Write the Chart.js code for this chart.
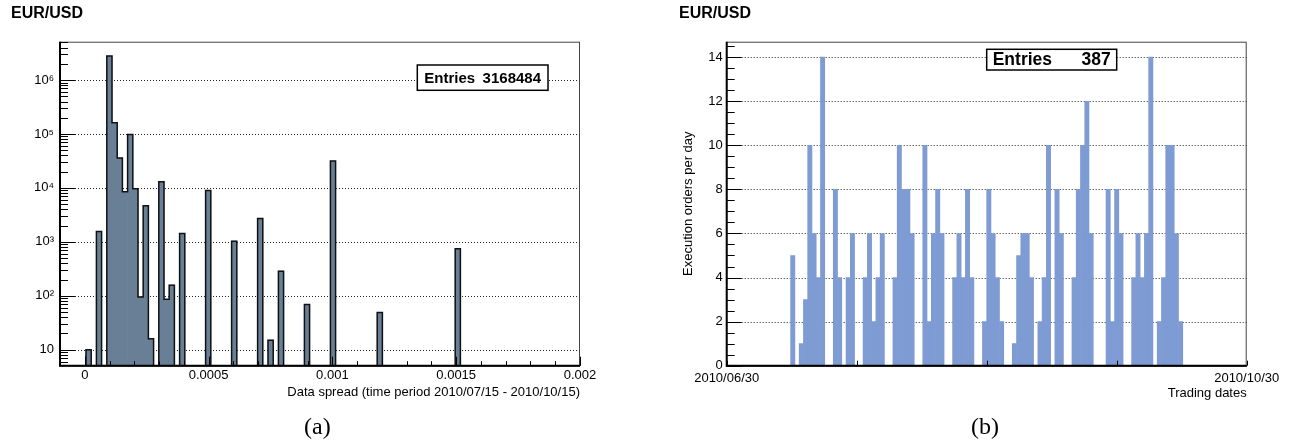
<!DOCTYPE html>
<html>
<head>
<meta charset="utf-8">
<script src="https://cdn.jsdelivr.net/npm/chart.js@4"></script>
<style>
  html, body { margin: 0; padding: 0; background: #fff; }
  #wrap { position: relative; width: 1295px; height: 444px; overflow: hidden; }
  .pane { position: absolute; top: 0; height: 444px; }
  .cap { position: absolute; top: 414px; font-family: "Liberation Serif", "Times New Roman", serif;
         font-size: 24px; line-height: 24px; color: #000; }
</style>
</head>
<body>
<div id="wrap">
  <div class="pane" style="left:0;width:647px"><canvas id="spreadChart"></canvas></div>
  <div class="pane" style="left:647px;width:648px"><canvas id="ordersChart"></canvas></div>
  <div class="cap" style="left:304px">(a)</div>
  <div class="cap" style="left:971px">(b)</div>
</div>
<script>
const FONT = "'Liberation Sans', Arial, Helvetica, sans-serif";
Chart.defaults.font.family = FONT;
Chart.defaults.color = '#000';

// (a) spread histogram: 100 bins from -0.0001 to 0.002
const spreadMin = -0.0001;
const spreadMax = 0.002;
const spreadCounts = [
  0, 0, 0, 0, 0, 10, 0, 1560, 0, 2789410,
  161000, 35700, 8460, 98000, 9620, 95, 4650, 16, 0, 13000,
  86, 157, 0, 1430, 0, 0, 0, 0, 8980, 0,
  0, 0, 0, 1030, 0, 0, 0, 0, 2720, 0,
  15, 0, 286, 0, 0, 0, 0, 69, 0, 0,
  0, 0, 31400, 0, 0, 0, 0, 0, 0, 0,
  0, 49, 0, 0, 0, 0, 0, 0, 0, 0,
  0, 0, 0, 0, 0, 0, 741, 0, 0, 0,
  0, 0, 0, 0, 0, 0, 0, 0, 0, 0,
  0, 0, 0, 0, 0, 0, 0, 0, 0, 0
];
const spreadTicks = [0, 0.0005, 0.001, 0.0015, 0.002];
const spreadTickLabels = ['0', '0.0005', '0.001', '0.0015', '0.002'];
const countTicks = [10, 1e2, 1e3, 1e4, 1e5, 1e6];
const countTickLabels = ['10', '10\u00b2', '10\u00b3', '10\u2074', '10\u2075', '10\u2076'];

// (b) orders per trading day, 2010/06/30 .. 2010/10/30
const dayCounts = [
  0, 0, 0, 0, 0, 0, 0, 0, 0, 0,
  0, 0, 0, 0, 0, 5, 0, 1, 3, 10,
  6, 4, 14, 0, 0, 8, 4, 0, 4, 6,
  0, 0, 4, 6, 2, 4, 6, 0, 0, 4,
  10, 8, 8, 6, 0, 0, 10, 2, 6, 8,
  6, 0, 0, 4, 6, 4, 8, 4, 0, 0,
  2, 8, 6, 4, 2, 0, 0, 1, 5, 6,
  6, 4, 0, 2, 4, 10, 0, 8, 6, 0,
  0, 4, 8, 10, 12, 6, 0, 0, 0, 8,
  2, 8, 6, 0, 0, 4, 6, 4, 6, 14,
  0, 2, 4, 10, 10, 6, 2, 0, 0, 0,
  0, 0, 0, 0, 0, 0, 0, 0, 0, 0,
  0, 0
];
const dayTicks = [0, 122];
const dayTickLabels = ['2010/06/30', '2010/10/30'];
const orderTicks = [0, 2, 4, 6, 8, 10, 12, 14];

const sum = a => a.reduce((s, v) => s + v, 0);

// ROOT-like frame: dotted grid, inward ticks, stat box
const rootFrame = {
  id: 'rootFrame',
  beforeDatasetsDraw(chart, args, o) {
    const { ctx, chartArea: a } = chart;
    const y = chart.scales.y;
    ctx.save();
    ctx.strokeStyle = '#222';
    ctx.lineWidth = 1;
    ctx.setLineDash([1, 2]);
    o.gridY.forEach(v => {
      const py = Math.round(y.getPixelForValue(v)) + 0.5;
      ctx.beginPath();
      ctx.moveTo(a.left, py);
      ctx.lineTo(a.right, py);
      ctx.stroke();
    });
    ctx.restore();
  },
  afterDatasetsDraw(chart, args, o) {
    const { ctx, chartArea: a } = chart;
    const { x, y } = chart.scales;
    ctx.save();
    ctx.strokeStyle = '#444';
    ctx.lineWidth = 1;
    ctx.strokeRect(a.left, a.top + 0.5, a.right - a.left - 0.5, a.bottom - a.top);
    ctx.strokeStyle = '#000';
    ctx.lineWidth = 2;
    ctx.beginPath();
    ctx.moveTo(a.left, a.top);
    ctx.lineTo(a.left, a.bottom);
    ctx.lineTo(a.right, a.bottom);
    ctx.stroke();

    ctx.lineWidth = 1;
    const xt = (list, len) => list.forEach(v => {
      const px = Math.round(x.getPixelForValue(v)) + 0.5;
      ctx.beginPath(); ctx.moveTo(px, a.bottom); ctx.lineTo(px, a.bottom - len); ctx.stroke();
    });
    const yt = (list, len) => list.forEach(v => {
      const py = Math.round(y.getPixelForValue(v)) + 0.5;
      ctx.beginPath(); ctx.moveTo(a.left, py); ctx.lineTo(a.left + len, py); ctx.stroke();
    });
    xt(o.xMajor, o.xMajorLen);
    xt(o.xMinor, o.xMinorLen);
    yt(o.yMajor, o.yMajorLen);
    yt(o.yMinor, o.yMinorLen);

    const b = o.box;
    const bx = a.left + b.dx, by = a.top + b.dy;
    ctx.fillStyle = '#fff';
    ctx.fillRect(bx, by, b.w, b.h);
    ctx.strokeStyle = '#000';
    ctx.lineWidth = 1.5;
    ctx.strokeRect(bx, by, b.w, b.h);
    ctx.fillStyle = '#000';
    ctx.font = 'bold ' + b.size + 'px ' + FONT;
    ctx.textBaseline = 'middle';
    ctx.textAlign = 'left';
    ctx.fillText('Entries', bx + b.pad, by + b.h / 2 + 1);
    ctx.textAlign = 'right';
    ctx.fillText(String(b.value), bx + b.w - b.pad, by + b.h / 2 + 1);
    ctx.restore();
  }
};

// ---------- (a) ----------
const binW = (spreadMax - spreadMin) / spreadCounts.length;
const yFloor = 5.05;
const spreadBars = spreadCounts.map((c, i) => ({ x: spreadMin + (i + 0.5) * binW, y: c > 0 ? c : null }));
const spreadOutline = spreadCounts.map((c, i) => ({ x: spreadMin + i * binW, y: c > 0 ? c : yFloor }));
spreadOutline.push({ x: spreadMax, y: yFloor });

const spreadMinor = [];
for (let k = -1; k <= 20; k++) spreadMinor.push(k * 0.0001);
const countMinor = [];
for (let e = 0; e <= 6; e++) for (let m = 2; m <= 9; m++) {
  const v = m * Math.pow(10, e);
  if (v >= yFloor && v <= 5.14e6) countMinor.push(v);
}

new Chart(document.getElementById('spreadChart'), {
  type: 'bar',
  data: {
    datasets: [
      { type: 'line', data: spreadOutline, stepped: true, borderColor: '#111', borderWidth: 1.5,
        pointRadius: 0, fill: false, order: 0 },
      { type: 'bar', data: spreadBars, backgroundColor: '#687f96', borderWidth: 0,
        barPercentage: 1, categoryPercentage: 1, order: 1 }
    ]
  },
  options: {
    responsive: true, maintainAspectRatio: false, animation: false,
    layout: { padding: { left: 11, right: 67, top: 0, bottom: 0 } },
    plugins: {
      legend: { display: false },
      tooltip: { enabled: false },
      title: { display: true, text: 'EUR/USD', align: 'start', color: '#000',
               font: { size: 16, weight: 'bold' }, padding: { top: 3.7, bottom: 18.8 } },
      rootFrame: {
        gridY: countTicks,
        xMajor: spreadTicks, xMajorLen: 9, xMinor: spreadMinor, xMinorLen: 4.5,
        yMajor: countTicks, yMajorLen: 15, yMinor: countMinor, yMinorLen: 8,
        box: { dx: 357.3, dy: 23.3, w: 130.7, h: 25.3, size: 15, pad: 7, value: sum(spreadCounts) }
      }
    },
    scales: {
      x: {
        type: 'linear', min: spreadMin, max: spreadMax, offset: false,
        afterBuildTicks: s => { s.ticks = spreadTicks.map(v => ({ value: v })); },
        afterFit: s => { s.height = 78.3; },
        grid: { display: false, drawTicks: false, offset: false }, border: { display: false },
        ticks: { autoSkip: false, maxRotation: 0, padding: 2, font: { size: 13 },
                 callback: (v, i) => spreadTickLabels[i] },
        title: { display: true, text: 'Data spread (time period 2010/07/15 - 2010/10/15)', align: 'end',
                 font: { size: 13 }, padding: { top: 0, bottom: 43.4 } }
      },
      y: {
        type: 'logarithmic', min: yFloor, max: 5.14e6,
        afterBuildTicks: s => { s.ticks = countTicks.map(v => ({ value: v })); },
        afterFit: s => { s.width = 49; },
        grid: { display: false, drawTicks: false }, border: { display: false },
        ticks: { autoSkip: false, padding: 6, font: { size: 13 },
                 callback: (v, i) => countTickLabels[i] }
      }
    }
  },
  plugins: [rootFrame]
});

// ---------- (b) ----------
const dayBars = dayCounts.map((c, i) => ({ x: i + 0.5, y: c }));
const orderMinor = [];
for (let v = 0; v <= 14.5; v += 0.5) orderMinor.push(v);

new Chart(document.getElementById('ordersChart'), {
  type: 'bar',
  data: {
    datasets: [
      { data: dayBars, backgroundColor: '#7e9bd3', borderWidth: 0,
        barPercentage: 1, categoryPercentage: 1 }
    ]
  },
  options: {
    responsive: true, maintainAspectRatio: false, animation: false,
    layout: { padding: { left: 32, right: 48.3, top: 0, bottom: 0 } },
    plugins: {
      legend: { display: false },
      tooltip: { enabled: false },
      title: { display: true, text: 'EUR/USD', align: 'start', color: '#000',
               font: { size: 16, weight: 'bold' }, padding: { top: 3.7, bottom: 18.8 } },
      rootFrame: {
        gridY: orderTicks,
        xMajor: [0, 30.5, 61, 91.5, 122], xMajorLen: 5, xMinor: [], xMinorLen: 0,
        yMajor: orderTicks, yMajorLen: 15, yMinor: orderMinor, yMinorLen: 8,
        box: { dx: 260, dy: 7.6, w: 130, h: 20.7, size: 17.5, pad: 6, value: sum(dayCounts) }
      }
    },
    scales: {
      x: {
        type: 'linear', min: 0, max: 122, offset: false,
        afterBuildTicks: s => { s.ticks = dayTicks.map(v => ({ value: v })); },
        afterFit: s => { s.height = 78.3; },
        grid: { display: false, drawTicks: false, offset: false }, border: { display: false },
        ticks: { autoSkip: false, maxRotation: 0, padding: 5, font: { size: 13 },
                 callback: (v, i) => dayTickLabels[i] },
        title: { display: true, text: 'Trading dates', align: 'end',
                 font: { size: 13 }, padding: { top: 0, bottom: 42.4 } }
      },
      y: {
        type: 'linear', min: 0, max: 14.7,
        afterBuildTicks: s => { s.ticks = orderTicks.map(v => ({ value: v })); },
        afterFit: s => { s.width = 47.7; },
        grid: { display: false, drawTicks: false }, border: { display: false },
        ticks: { autoSkip: false, padding: 4, font: { size: 13 },
                 callback: (v, i) => String(orderTicks[i]) },
        title: { display: true, text: 'Execution orders per day', font: { size: 13 },
                 padding: { top: 1.5, bottom: 0 } }
      }
    }
  },
  plugins: [rootFrame]
});
</script>
</body>
</html>
